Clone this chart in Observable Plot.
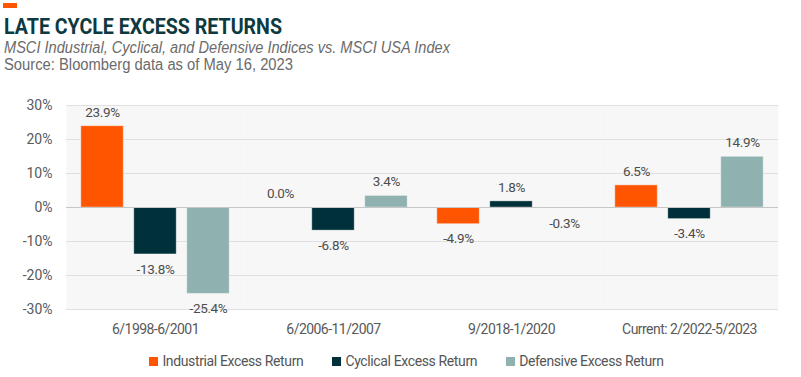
<!DOCTYPE html>
<html><head><meta charset="utf-8">
<script src="https://cdn.jsdelivr.net/npm/d3@7"></script>
<script src="https://cdn.jsdelivr.net/npm/@observablehq/plot@0.6"></script>
<style>
body{margin:0;background:#fff;}
#wrap{position:relative;width:801px;height:377px;overflow:hidden;font-family:"Roboto",sans-serif;}
#accent{position:absolute;left:3px;top:3px;width:14px;height:5px;background:#ff5500;}
.hd{position:absolute;left:4px;white-space:nowrap;transform-origin:0 0;}
#title{top:16px;font-size:22px;line-height:22px;font-weight:bold;color:#0d3a40;}
#subtitle{top:40px;font-size:16px;line-height:16px;font-style:italic;color:#6b6b6b;font-family:"Liberation Sans","Roboto",sans-serif;}
#source{top:57px;font-size:16px;line-height:16px;color:#6b6b6b;font-family:"Liberation Sans","Roboto",sans-serif;}
#chart{position:absolute;left:0;top:80px;}
#chart g[aria-label="fx-axis tick label"] text{letter-spacing:-0.55px;}
#chart g[aria-label="text"] text{letter-spacing:-0.35px;}
#legend{position:absolute;left:0;top:353px;width:801px;display:flex;justify-content:center;gap:29px;font-size:14px;line-height:16px;color:#555;letter-spacing:-0.37px;padding-left:12px;box-sizing:border-box;}
#legend .item{display:flex;align-items:center;gap:4px;white-space:nowrap;}
#legend .sw{width:9px;height:9px;display:inline-block;margin-top:1px;}
</style></head>
<body><div id="wrap">
<div id="accent"></div>
<div id="title" class="hd" data-w="278">LATE CYCLE EXCESS RETURNS</div>
<div id="subtitle" class="hd" data-w="446">MSCI Industrial, Cyclical, and Defensive Indices vs. MSCI USA Index</div>
<div id="source" class="hd" data-w="289">Source: Bloomberg data as of May 16, 2023</div>
<div id="chart"></div>
<div id="legend"></div>
</div>
<script>
const periods = ["6/1998-6/2001", "6/2006-11/2007", "9/2018-1/2020", "Current: 2/2022-5/2023"];
const series = ["Industrial Excess Return", "Cyclical Excess Return", "Defensive Excess Return"];
const industrial = [23.9, 0.0, -4.9, 6.5];
const cyclical = [-13.8, -6.8, 1.8, -3.4];
const defensive = [-25.4, 3.4, -0.3, 14.9];
const yTicks = [-30, -20, -10, 0, 10, 20, 30];
const colors = ["#ff5500", "#00303a", "#8fb1b0"];

const values = [industrial, cyclical, defensive];
const data = [];
periods.forEach((p, i) => series.forEach((s, j) => data.push({period: p, series: s, value: values[j][i]})));
const fmt = v => v.toFixed(1) + "%";

const chart = Plot.plot({
  width: 801,
  height: 265,
  marginTop: 25,
  marginBottom: 36,
  marginLeft: 64,
  marginRight: 22,
  style: {fontFamily: '"Roboto",sans-serif', fontSize: "14px", color: "#595959", background: "transparent"},
  fx: {domain: periods, padding: 0, label: null},
  x: {domain: series, paddingInner: 0.2, paddingOuter: 0.28, axis: null, round: false},
  y: {domain: [-30, 30], label: null},
  color: {domain: series, range: colors},
  marks: [
    Plot.frame({fill: "#f7f7f7", stroke: "none"}),
    Plot.gridY(yTicks, {stroke: "#e0e0e0", strokeOpacity: 1}),
    Plot.barY(data, {fx: "period", x: "series", y: "value", fill: "series", stroke: "#fff", strokeOpacity: 0.35, strokeWidth: 1}),
    Plot.ruleY([0], {stroke: "#c6c6c6"}),
    Plot.text(data.filter(d => d.value >= 0), {fx: "period", x: "series", y: "value", text: d => fmt(d.value), dy: -14, lineAnchor: "middle", fill: "#4d4d4d", fontSize: 13.5}),
    Plot.text(data.filter(d => d.value < 0), {fx: "period", x: "series", y: "value", text: d => fmt(d.value), dy: 15, lineAnchor: "middle", fill: "#4d4d4d", fontSize: 13.5}),
    Plot.axisY(yTicks, {tickSize: 0, tickPadding: 14, tickFormat: d => d + "%", label: null}),
    Plot.axisFx({anchor: "bottom", tickSize: 0, tickPadding: 15, label: null})
  ]
});
document.getElementById("chart").appendChild(chart);

const legend = document.getElementById("legend");
series.forEach((s, i) => {
  const it = document.createElement("div");
  it.className = "item";
  const sw = document.createElement("span");
  sw.className = "sw";
  sw.style.background = colors[i];
  const tx = document.createElement("span");
  tx.textContent = s;
  it.appendChild(sw); it.appendChild(tx);
  legend.appendChild(it);
});

document.querySelectorAll(".hd").forEach(el => {
  const w = el.getBoundingClientRect().width;
  const target = +el.dataset.w;
  if (w > 0) el.style.transform = `scaleX(${target / w})`;
});
</script>
</body></html>
